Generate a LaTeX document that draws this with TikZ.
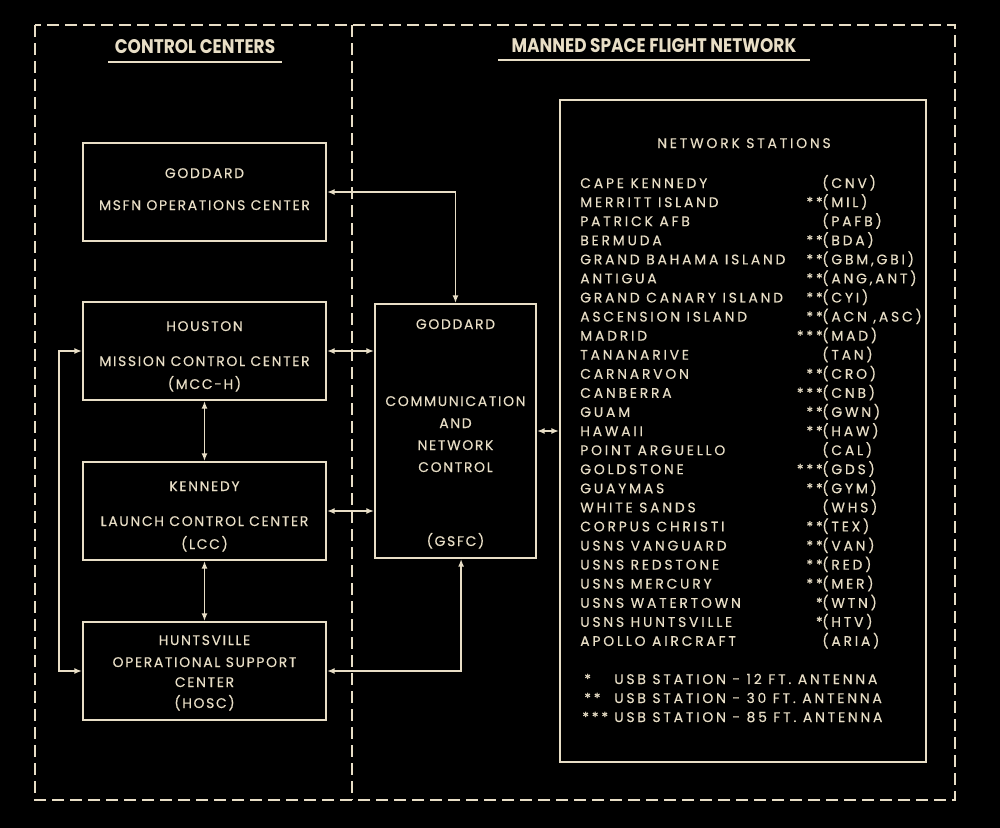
\documentclass[tikz,border=0pt]{standalone}
\usepackage{fontspec}
\setmainfont{Poppins}
\newfontfamily\headfont[FakeStretch=0.86]{Poppins}
\newfontfamily\boxfont[LetterSpace=12,FakeBold=0.3]{Poppins}
\newfontfamily\listfont[LetterSpace=20,FakeBold=0.3]{Poppins}
\usetikzlibrary{arrows.meta}
\definecolor{paper}{HTML}{E8DEC6}

\tikzset{
  box/.style 2 args={draw, line width=0.5mm, inner sep=0pt,
    minimum width=#1*0.25mm, minimum height=#2*0.25mm},
  lbl/.style={inner sep=0pt, anchor=base,
    font={\boxfont\fontsize{9.9}{11}\selectfont}},
  item/.style={inner sep=0pt, anchor=base west,
    font={\listfont\fontsize{9.9}{11}\selectfont}},
  head/.style={inner sep=0pt, anchor=base,
    font={\headfont\bfseries\fontsize{14}{16}\selectfont}},
  link/.style={line width=0.45mm,
    {Latex[length=1.9mm,width=1.5mm]}-{Latex[length=1.9mm,width=1.5mm]}},
  frame/.style={line width=0.5mm, dash pattern=on 3mm off 1.5mm}
}

\begin{document}
\begin{tikzpicture}[x=0.25mm, y=-0.25mm, color=paper]

\fill[black] (0,0) rectangle (1000,828);
\useasboundingbox (0,0) rectangle (1000,828);

% outer frame and divider
\draw[frame] (35,25) rectangle (955,800);
\draw[frame] (352,25) -- (352,800);

% headings
\node[head] (cchead) at (195,53) {CONTROL CENTERS};
\draw[line width=0.4mm] (108,62) -- (282,62);
\node[head] (msfnhead) at (654,52) {MANNED SPACE FLIGHT NETWORK};
\draw[line width=0.4mm] (498,60) -- (810,60);

% control centers
\node[box={243}{98}] (msfn) at (204.5,192) {};
\node[lbl] (msfn-a) at (204.5,178) {GODDARD};
\node[lbl] (msfn-b) at (204.5,210) {MSFN OPERATIONS CENTER};

\node[box={243}{98}] (mcch) at (204.5,351) {};
\node[lbl] (mcch-a) at (204.5,331) {HOUSTON};
\node[lbl] (mcch-b) at (204.5,366) {MISSION CONTROL CENTER};
\node[lbl] (mcch-c) at (204.5,389) {(MCC-H)};

\node[box={243}{98}] (lcc) at (204.5,511) {};
\node[lbl] (lcc-a) at (204.5,491) {KENNEDY};
\node[lbl] (lcc-b) at (204.5,526) {LAUNCH CONTROL CENTER};
\node[lbl] (lcc-c) at (204.5,549) {(LCC)};

\node[box={243}{98}] (hosc) at (204.5,671) {};
\node[lbl] (hosc-a) at (204.5,645) {HUNTSVILLE};
\node[lbl] (hosc-b) at (204.5,667) {OPERATIONAL SUPPORT};
\node[lbl] (hosc-c) at (204.5,687) {CENTER};
\node[lbl] (hosc-d) at (204.5,708) {(HOSC)};

\node[box={161}{254}] (gsfc) at (455.5,431) {};
\node[lbl] (gsfc-a) at (455.5,329) {GODDARD};
\node[lbl] (gsfc-b) at (455.5,406) {COMMUNICATION};
\node[lbl] (gsfc-c) at (455.5,428) {AND};
\node[lbl] (gsfc-d) at (455.5,450) {NETWORK};
\node[lbl] (gsfc-e) at (455.5,472) {CONTROL};
\node[lbl] (gsfc-f) at (455.5,546) {(GSFC)};

% network stations
\node[box={366}{662}] (stations) at (743,431) {};
\node[item, anchor=base] (stations-t) at (744,148) {NETWORK STATIONS};

\foreach \stn/\stars/\code [count=\i from 0] in {
  CAPE KENNEDY//(CNV),
  MERRITT ISLAND/**/(MIL),
  PATRICK AFB//(PAFB),
  BERMUDA/**/(BDA),
  GRAND BAHAMA ISLAND/**/{(GBM,GBI)},
  ANTIGUA/**/{(ANG,ANT)},
  GRAND CANARY ISLAND/**/(CYI),
  ASCENSION ISLAND/**/{(ACN ,ASC)},
  MADRID/***/(MAD),
  TANANARIVE//(TAN),
  CARNARVON/**/(CRO),
  CANBERRA/***/(CNB),
  GUAM/**/(GWN),
  HAWAII/**/(HAW),
  POINT ARGUELLO//(CAL),
  GOLDSTONE/***/(GDS),
  GUAYMAS/**/(GYM),
  WHITE SANDS//(WHS),
  CORPUS CHRISTI/**/(TEX),
  USNS VANGUARD/**/(VAN),
  USNS REDSTONE/**/(RED),
  USNS MERCURY/**/(MER),
  USNS WATERTOWN/*/(WTN),
  USNS HUNTSVILLE/*/(HTV),
  APOLLO AIRCRAFT//(ARIA)} {
  \node[item] (stn\i) at (580,{188+19.08*\i}) {\stn};
  \node[item, anchor=base east] (stars\i) at (823,{188+19.08*\i}) {\stars};
  \node[item] (code\i) at (822,{188+19.08*\i}) {\code};
}

% legend
\node[item] (key1s) at (584,684) {*};
\node[item] (key1) at (614,684) {USB STATION - 12 FT. ANTENNA};
\node[item] (key2s) at (584,703) {**};
\node[item] (key2) at (614,703) {USB STATION - 30 FT. ANTENNA};
\node[item] (key3s) at (582,722) {***};
\node[item] (key3) at (614,722) {USB STATION - 85 FT. ANTENNA};

% connectors
\draw[link] (msfn.east) -| (gsfc.north);
\draw[link] (mcch.east) -- (mcch.east -| gsfc.west);
\draw[link] (lcc.east) -- (lcc.east -| gsfc.west);
\draw[link] (mcch.south) -- (lcc.north);
\draw[link] (lcc.south) -- (hosc.north);
\draw[link] (mcch.west) -- ++(-23,0) |- (hosc.west);
\draw[link] (hosc.east) -| ([xshift=1.4mm]gsfc.south);
\draw[link] (gsfc.east) -- (stations.west);

\end{tikzpicture}
\end{document}
